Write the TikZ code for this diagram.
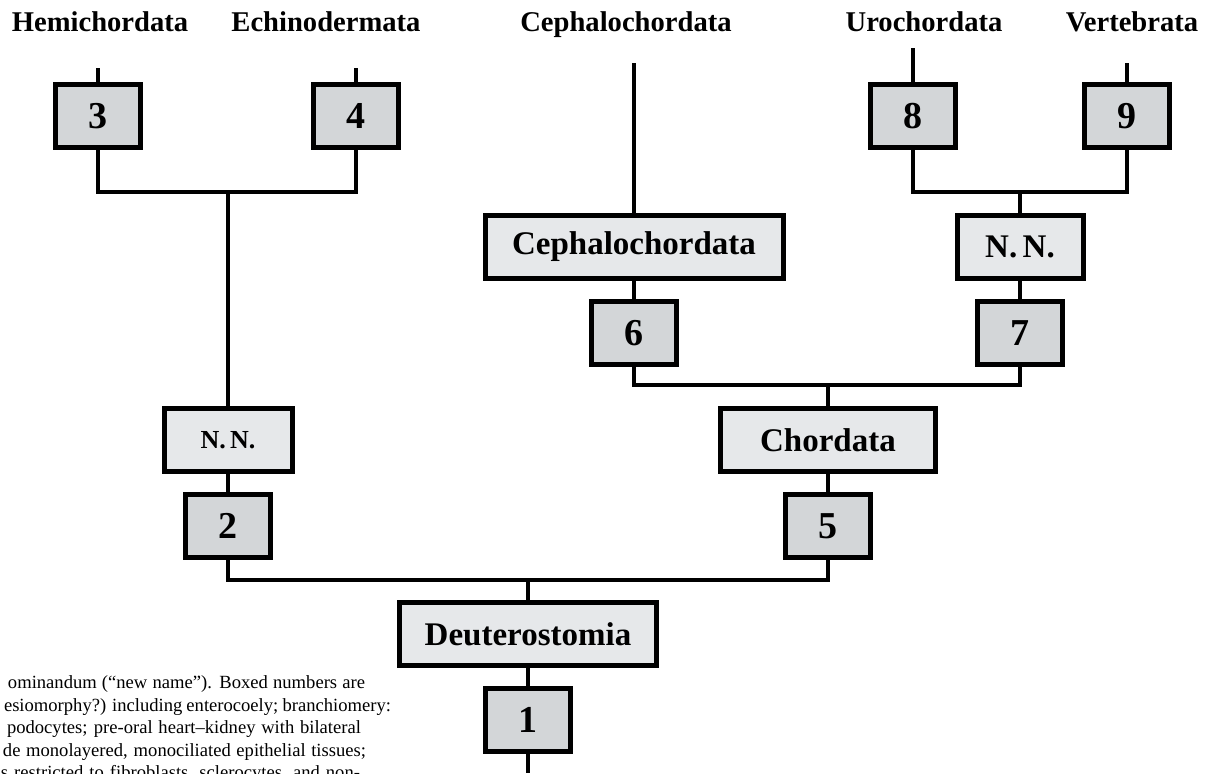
\documentclass[tikz,border=0pt]{standalone}
\usepackage{fontspec}
\setmainfont{Liberation Serif}
\usepackage{tikz}
\usetikzlibrary{positioning}
\definecolor{numgray}{HTML}{D3D6D8}
\definecolor{cladegray}{HTML}{E6E8EA}

\begin{document}
\begin{tikzpicture}[x=0.5pt, y=-0.5pt, line width=2pt,
   numbox/.style={draw, line width=2.5pt, fill=numgray, minimum width=42.5pt, minimum height=31.5pt,
                  inner sep=0pt, font=\fontsize{19}{19}\selectfont\bfseries},
   clade/.style={draw, line width=2.5pt, fill=cladegray, minimum height=31.5pt, inner sep=0pt,
                 font=\fontsize{16.5}{16.5}\selectfont\bfseries},
   taxon/.style={anchor=base, inner sep=0pt, font=\fontsize{14.3}{14.3}\selectfont\bfseries},
   capline/.style={anchor=base west, inner sep=0pt, font=\fontsize{9.3}{10}\selectfont}]
  \useasboundingbox (0,0) rectangle (1216,773);
  \clip (0,0) rectangle (1216,773);

  % terminal taxa
  \node[taxon] (hemi)  at (100,31)  {Hemichordata};
  \node[taxon] (echi)  at (326,31)  {Echinodermata};
  \node[taxon] (cepht) at (626,31)  {Cephalochordata};
  \node[taxon] (uro)   at (924,31)  {Urochordata};
  \node[taxon] (vert)  at (1132,31) {Vertebrata};

  % ends of the branches under the names
  \coordinate (t3) at (98,68);
  \coordinate (t4) at (356,68);
  \coordinate (tc) at (634,63);
  \coordinate (t8) at (913,48);
  \coordinate (t9) at (1127,63);
  \coordinate (root) at (528,773);

  % boxed numbers
  \node[numbox] (n3) at (98,116)   {3};
  \node[numbox] (n4) at (356,116)  {4};
  \node[numbox] (n8) at (913,116)  {8};
  \node[numbox] (n9) at (1127,116) {9};
  \node[numbox] (n6) at (634,333)  {6};
  \node[numbox] (n7) at (1020,333) {7};
  \node[numbox] (n2) at (228,526)  {2};
  \node[numbox] (n5) at (828,526)  {5};
  \node[numbox] (n1) at (528,720)  {1};

  % named clades
  \node[clade, minimum width=149pt] (ceph) at (634,247) {Cephalochordata};
  \node[clade, minimum width=63pt]  (nnR)  at (1020,247) {N.\,N.};
  \node[clade, minimum width=64pt, font=\fontsize{13}{13}\selectfont\bfseries] (nnL) at (228,440) {N.\,N.};
  \node[clade, minimum width=107.5pt] (chord) at (828,440) {Chordata};
  \node[clade, minimum width=128.5pt] (deut)  at (528,634) {Deuterostomia};

  % forks
  \coordinate (j34) at (228,192);
  \coordinate (j89) at (1020,192);
  \coordinate (j67) at (828,385);
  \coordinate (j25) at (528,580);

  \draw (t3) -- (n3);
  \draw (t4) -- (n4);
  \draw (t8) -- (n8);
  \draw (t9) -- (n9);
  \draw (tc) -- (ceph);
  \draw (n3.south) |- (j34) -| (n4.south);
  \draw (j34) -- (nnL);
  \draw (n8.south) |- (j89) -| (n9.south);
  \draw (j89) -- (nnR);
  \draw (ceph) -- (n6);
  \draw (nnR) -- (n7);
  \draw (n6.south) |- (j67) -| (n7.south);
  \draw (j67) -- (chord);
  \draw (nnL) -- (n2);
  \draw (chord) -- (n5);
  \draw (n2.south) |- (j25) -| (n5.south);
  \draw (j25) -- (deut);
  \draw (deut) -- (n1);
  \draw (n1) -- (root);

  % caption, cut off by the frame
  \node[capline] (cap1) at (6,688) {\makebox[178.5pt][s]{ominandum (“new name”). Boxed numbers are}};
  \node[capline] (cap2) at (2,711) {\makebox[193.5pt][s]{esiomorphy?) including enterocoely; branchiomery:}};
  \node[capline] (cap3) at (5,733) {\makebox[177pt][s]{podocytes; pre-oral heart–kidney with bilateral}};
  \node[capline] (cap4) at (1,756) {\makebox[181.5pt][s]{de monolayered, monociliated epithelial tissues;}};
  \node[capline] (cap5) at (-1,778) {\makebox[179.5pt][s]{s restricted to fibroblasts, sclerocytes, and non-}};
\end{tikzpicture}
\end{document}
